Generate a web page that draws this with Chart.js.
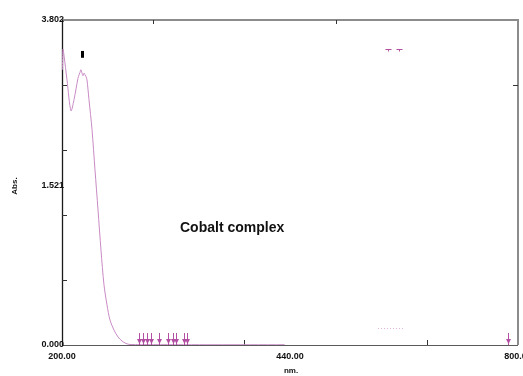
<!DOCTYPE html>
<html>
<head>
<meta charset="utf-8">
<script src="https://cdn.jsdelivr.net/npm/chart.js@4"></script>
<style>
  html, body { margin: 0; padding: 0; background: #fff; overflow: hidden; }
  canvas { display: block; }
</style>
</head>
<body>
<canvas id="spectrum" width="523" height="376"></canvas>
<script>
// UV-Vis absorption spectrum, cobalt complex
const wavelengthNm = [200.5, 201.3, 202.6, 206.6, 211.8, 215.8, 221.0, 222.4, 223.7, 224.9, 226.3, 227.6, 229.0, 230.3, 231.6, 232.9, 235.5, 239.5, 243.4, 247.4, 251.3, 255.3, 259.2, 263.2, 268.4, 273.7, 278.9, 284.2, 289.5, 320, 400, 493];
const absorbance   = [3.22, 3.46, 3.39, 3.10, 2.74, 2.87, 3.12, 3.16, 3.19, 3.22, 3.18, 3.15, 3.18, 3.16, 3.14, 3.10, 2.87, 2.52, 2.05, 1.58, 1.11, 0.70, 0.47, 0.29, 0.175, 0.094, 0.047, 0.018, 0.006, 0.004, 0.003, 0.003];

// Peak-pick arrows along the baseline
const peakPickNm = [301.3, 306.6, 311.8, 317.1, 327.6, 339.5, 346.1, 350.0, 360.5, 364.5, 786.8];
const peakPickTop = 0.14;

// Cursor mark at the main band
const cursorNm = 226.3;
const cursorAbs = [3.36, 3.44];

// Small marker symbols near the top right and the faint dotted trace
const markerNm = [628.9, 643.4];
const markerAbs = 3.46;
const dottedNm = [615.8, 648.7];
const dottedAbs = 0.199;

// Axis labels
const xTickValues = [200, 500, 800];
const xTickLabels = ['200.00', '440.00', '800.00'];
const yTickValues = [0, 1.86, 3.802];
const yTickLabels = ['0.000', '1.521', '3.802'];

// Minor tick marks
const xMinorBottom = [440, 680];
const xMinorTop = [320, 560];
const yMinorLeft = [0.760, 1.521, 2.281, 3.041];
const yMinorRight = [3.041];

const X_MIN = 200, X_MAX = 800, Y_MIN = 0, Y_MAX = 3.802;

const spectrumPoints = wavelengthNm.map((w, i) => ({ x: w, y: absorbance[i] }));

const frameAndLabels = {
  id: 'frameAndLabels',
  beforeDatasetsDraw(chart) {
    const { ctx, chartArea: a, scales: { x, y } } = chart;
    ctx.save();
    // top and right frame
    ctx.strokeStyle = '#8c8c8c';
    ctx.lineWidth = 2;
    ctx.beginPath();
    ctx.moveTo(a.left, a.top);
    ctx.lineTo(a.right, a.top);
    ctx.lineTo(a.right, a.bottom);
    ctx.stroke();
    // bottom axis
    ctx.strokeStyle = '#5a5a5a';
    ctx.lineWidth = 1.2;
    ctx.beginPath();
    ctx.moveTo(a.left, a.bottom + 0.5);
    ctx.lineTo(a.right, a.bottom + 0.5);
    ctx.stroke();
    // left axis
    ctx.strokeStyle = '#1a1a1a';
    ctx.lineWidth = 1.3;
    ctx.beginPath();
    ctx.moveTo(a.left + 0.5, a.top);
    ctx.lineTo(a.left + 0.5, a.bottom + 1);
    ctx.stroke();

    // minor ticks
    ctx.strokeStyle = '#333';
    ctx.lineWidth = 1;
    ctx.beginPath();
    yMinorLeft.forEach(v => {
      const py = Math.round(y.getPixelForValue(v)) + 0.5;
      ctx.moveTo(a.left, py); ctx.lineTo(a.left + 5, py);
    });
    yMinorRight.forEach(v => {
      const py = Math.round(y.getPixelForValue(v)) + 0.5;
      ctx.moveTo(a.right, py); ctx.lineTo(a.right - 5, py);
    });
    xMinorBottom.forEach(v => {
      const px = Math.round(x.getPixelForValue(v)) + 0.5;
      ctx.moveTo(px, a.bottom); ctx.lineTo(px, a.bottom - 5);
    });
    xMinorTop.forEach(v => {
      const px = Math.round(x.getPixelForValue(v)) + 0.5;
      ctx.moveTo(px, a.top); ctx.lineTo(px, a.top + 4);
    });
    ctx.stroke();

    // tick labels
    ctx.fillStyle = '#111';
    ctx.font = 'bold 9px "Liberation Sans", Arial, sans-serif';
    ctx.textAlign = 'right';
    ctx.textBaseline = 'middle';
    yTickValues.forEach((v, i) => {
      ctx.fillText(yTickLabels[i], a.left + 2, y.getPixelForValue(v));
    });
    ctx.textAlign = 'center';
    xTickValues.forEach((v, i) => {
      ctx.fillText(xTickLabels[i], x.getPixelForValue(v), a.bottom + 12);
    });

    // axis titles
    ctx.font = 'bold 8px "Liberation Sans", Arial, sans-serif';
    ctx.fillText('nm.', (a.left + a.right) / 2 + 1, a.bottom + 26);
    ctx.save();
    ctx.translate(15, y.getPixelForValue(1.86));
    ctx.rotate(-Math.PI / 2);
    ctx.fillText('Abs.', 0, 0);
    ctx.restore();

    // sample name
    ctx.font = 'bold 14px "Liberation Sans", Arial, sans-serif';
    ctx.textAlign = 'left';
    ctx.fillText('Cobalt complex', 180, 228);
    ctx.restore();
  },
  afterDatasetsDraw(chart) {
    const { ctx, scales: { x, y } } = chart;
    ctx.save();
    // peak-pick arrows
    ctx.strokeStyle = '#b24fa3';
    ctx.fillStyle = '#b24fa3';
    ctx.lineWidth = 1;
    peakPickNm.forEach(w => {
      const px = Math.round(x.getPixelForValue(w)) + 0.5;
      const yTop = y.getPixelForValue(peakPickTop);
      const yBot = y.getPixelForValue(0);
      ctx.beginPath();
      ctx.moveTo(px, yTop);
      ctx.lineTo(px, yBot);
      ctx.stroke();
      ctx.beginPath();
      ctx.moveTo(px - 2.5, yBot - 6);
      ctx.lineTo(px + 2.5, yBot - 6);
      ctx.lineTo(px, yBot - 1);
      ctx.closePath();
      ctx.fill();
    });

    // cursor mark
    ctx.fillStyle = '#000';
    const cx = x.getPixelForValue(cursorNm);
    const cy1 = y.getPixelForValue(cursorAbs[1]);
    const cy2 = y.getPixelForValue(cursorAbs[0]);
    ctx.fillRect(cx - 1, cy1, 3, cy2 - cy1);

    // marker symbols
    ctx.strokeStyle = '#b24fa3';
    ctx.lineWidth = 1;
    markerNm.forEach(w => {
      const px = Math.round(x.getPixelForValue(w)) + 0.5;
      const py = Math.round(y.getPixelForValue(markerAbs)) + 0.5;
      ctx.beginPath();
      ctx.moveTo(px - 3, py); ctx.lineTo(px + 3, py);
      ctx.moveTo(px, py); ctx.lineTo(px, py + 2);
      ctx.stroke();
    });

    // faint dotted trace
    ctx.strokeStyle = 'rgba(200,120,190,0.55)';
    ctx.setLineDash([1, 2]);
    ctx.beginPath();
    const dy = Math.round(y.getPixelForValue(dottedAbs)) + 0.5;
    ctx.moveTo(x.getPixelForValue(dottedNm[0]), dy);
    ctx.lineTo(x.getPixelForValue(dottedNm[1]), dy);
    ctx.stroke();
    ctx.restore();
  }
};

new Chart(document.getElementById('spectrum'), {
  type: 'line',
  data: {
    datasets: [{
      data: spectrumPoints,
      borderColor: '#c98ac5',
      borderWidth: 1,
      pointRadius: 0,
      tension: 0.3,
      fill: false
    }]
  },
  options: {
    responsive: false,
    animation: false,
    events: [],
    layout: { padding: { left: 62, right: 5, top: 20, bottom: 31 } },
    plugins: { legend: { display: false }, tooltip: { enabled: false } },
    scales: {
      x: { type: 'linear', min: X_MIN, max: X_MAX, display: false },
      y: { type: 'linear', min: Y_MIN, max: Y_MAX, display: false }
    }
  },
  plugins: [frameAndLabels]
});
</script>
</body>
</html>
